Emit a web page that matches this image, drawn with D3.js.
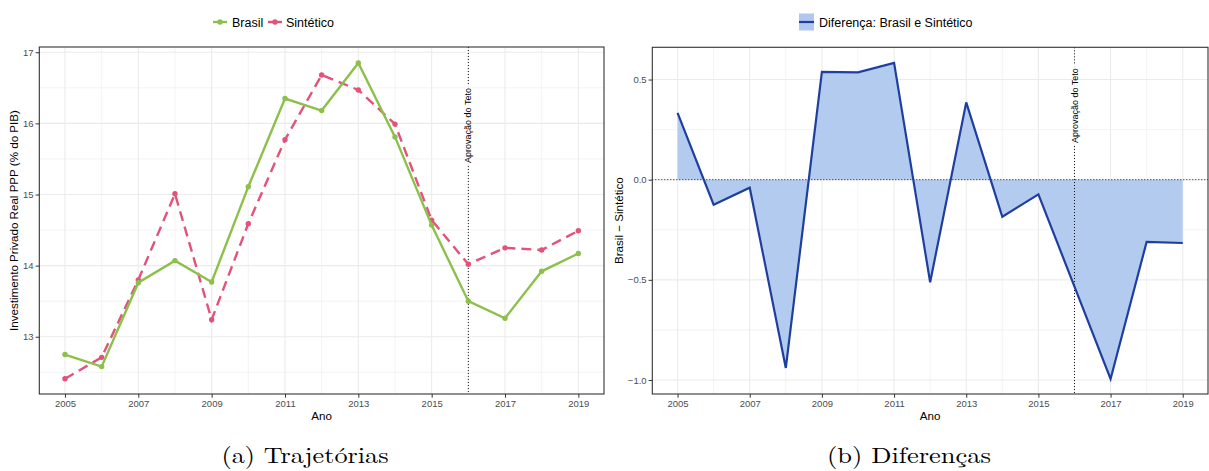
<!DOCTYPE html>
<html>
<head>
<meta charset="utf-8">
<script src="https://cdn.jsdelivr.net/npm/d3@7"></script>
<style>
  html, body { margin: 0; padding: 0; background: #fff; }
  svg { display: block; }
  text { font-family: "Liberation Sans", Arial, Helvetica, sans-serif; }
</style>
</head>
<body>
<svg id="fig" width="1209" height="471"></svg>
<script>
// Series data
const anos = [2005, 2006, 2007, 2008, 2009, 2010, 2011, 2012, 2013, 2014, 2015, 2016, 2017, 2018, 2019];
const brasil = [12.75, 12.58, 13.76, 14.07, 13.77, 15.11, 16.35, 16.18, 16.85, 15.81, 14.57, 13.50, 13.26, 13.92, 14.17];
const sintetico = [12.41, 12.71, 13.80, 15.01, 13.24, 14.59, 15.77, 16.68, 16.47, 15.99, 14.64, 14.02, 14.25, 14.22, 14.49];
const diferenca = [0.334, -0.125, -0.04, -0.94, 0.538, 0.536, 0.583, -0.512, 0.386, -0.185, -0.073, -0.534, -0.995, -0.31, -0.316];

const anoTicks = [2005, 2007, 2009, 2011, 2013, 2015, 2017, 2019];
const anoMinor = [2006, 2008, 2010, 2012, 2014, 2016, 2018];
const trajTicks = [13, 14, 15, 16, 17];
const trajMinor = [12.5, 13.5, 14.5, 15.5, 16.5];
const difTicks = [-1.0, -0.5, 0.0, 0.5];
const difMinor = [-0.75, -0.25, 0.25];
const anoTeto = 2016;

const corBrasil = "#8cc04b";
const corSint = "#e2527a";
const corLinhaDif = "#1f3f9e";
const corAreaDif = "#b0c8ef";

const svg = d3.select("#fig");

function panel(opts) {
  const g = svg.append("g");
  const x = d3.scaleLinear().domain([2004.3, 2019.7]).range([opts.x0, opts.x1]);
  const y = d3.scaleLinear().domain(opts.yDomain).range([opts.y1, opts.y0]);

  // background + grid
  g.append("rect").attr("x", opts.x0).attr("y", opts.y0)
    .attr("width", opts.x1 - opts.x0).attr("height", opts.y1 - opts.y0).attr("fill", "#fff");
  const grid = g.append("g");
  grid.selectAll(".vmin").data(anoMinor).join("line")
    .attr("x1", d => x(d)).attr("x2", d => x(d)).attr("y1", opts.y0).attr("y2", opts.y1)
    .attr("stroke", "#f0f0f0").attr("stroke-width", 0.8);
  grid.selectAll(".hmin").data(opts.minor).join("line")
    .attr("y1", d => y(d)).attr("y2", d => y(d)).attr("x1", opts.x0).attr("x2", opts.x1)
    .attr("stroke", "#f0f0f0").attr("stroke-width", 0.8);
  grid.selectAll(".vmaj").data(anoTicks).join("line")
    .attr("x1", d => x(d)).attr("x2", d => x(d)).attr("y1", opts.y0).attr("y2", opts.y1)
    .attr("stroke", "#ebebeb").attr("stroke-width", 1.1);
  grid.selectAll(".hmaj").data(opts.ticks).join("line")
    .attr("y1", d => y(d)).attr("y2", d => y(d)).attr("x1", opts.x0).attr("x2", opts.x1)
    .attr("stroke", "#ebebeb").attr("stroke-width", 1.1);

  // axes
  const xAxis = d3.axisBottom(x).tickValues(anoTicks).tickFormat(d3.format("d"))
    .tickSize(3.7).tickPadding(2.5);
  const gx = g.append("g").attr("transform", `translate(0,${opts.y1})`).call(xAxis);
  const yAxis = d3.axisLeft(y).tickValues(opts.ticks).tickFormat(opts.fmt)
    .tickSize(3.7).tickPadding(2);
  const gy = g.append("g").attr("transform", `translate(${opts.x0},0)`).call(yAxis);
  [gx, gy].forEach(a => {
    a.select(".domain").remove();
    a.selectAll(".tick line").attr("stroke", "#333").attr("stroke-width", 1);
    a.selectAll(".tick text").attr("fill", "#4d4d4d").style("font-size", "9.5px")
      .style("font-family", "'Liberation Sans', Arial, sans-serif");
  });

  // axis titles
  g.append("text").attr("x", (opts.x0 + opts.x1) / 2).attr("y", 420)
    .attr("text-anchor", "middle").style("font-size", "11.6px").attr("fill", "#000").text("Ano");
  g.append("text")
    .attr("transform", `translate(${opts.yTitleX},${(opts.y0 + opts.y1) / 2}) rotate(-90)`)
    .attr("text-anchor", "middle").attr("dy", "0.35em").style("font-size", "11.6px")
    .attr("fill", "#000").text(opts.yTitle);

  const marks = g.append("g");
  return { g, marks, x, y };
}

// teto annotation: dotted vertical line interrupted by a rotated label
function teto(p, opts, yLabel) {
  const xv = p.x(anoTeto);
  const yc = p.y(yLabel);
  const lineTop = p.marks.append("line");
  const lineBot = p.marks.append("line");
  const label = p.marks.append("text")
    .attr("transform", `translate(${xv},${yc}) rotate(-90)`)
    .attr("text-anchor", "middle").attr("dy", "0.35em")
    .style("font-size", "9px").attr("fill", "#000").text("Aprovação do Teto");
  const half = label.node().getComputedTextLength() / 2 + 3;
  lineTop.attr("x1", xv).attr("x2", xv).attr("y1", opts.y0).attr("y2", yc - half)
    .attr("stroke", "#111").attr("stroke-width", 1).attr("stroke-dasharray", "1,2");
  lineBot.attr("x1", xv).attr("x2", xv).attr("y1", yc + half).attr("y2", opts.y1)
    .attr("stroke", "#111").attr("stroke-width", 1).attr("stroke-dasharray", "1,2");
}

// ---------- (a) Trajetórias ----------
const optsA = {
  x0: 39.3, x1: 604, y0: 47, y1: 394,
  yDomain: [12.195, 17.074], ticks: trajTicks, minor: trajMinor,
  fmt: d3.format("d"), yTitle: "Investimento Privado Real PPP (% do PIB)", yTitleX: 14
};
const pA = panel(optsA);

const serieA = [
  { nome: "Sintético", vals: sintetico, cor: corSint, dash: "10,6" },
  { nome: "Brasil", vals: brasil, cor: corBrasil, dash: null }
];
const lineA = d3.line().x((d, i) => pA.x(anos[i])).y(d => pA.y(d));
teto(pA, optsA, 15.97);
serieA.forEach(s => {
  pA.marks.append("path").datum(s.vals).attr("d", lineA).attr("fill", "none")
    .attr("stroke", s.cor).attr("stroke-width", 2.4)
    .attr("stroke-dasharray", s.dash);
  pA.marks.selectAll(null).data(s.vals).join("circle")
    .attr("cx", (d, i) => pA.x(anos[i])).attr("cy", d => pA.y(d))
    .attr("r", 2.7).attr("fill", s.cor);
});
pA.g.append("rect").attr("x", optsA.x0).attr("y", optsA.y0)
  .attr("width", optsA.x1 - optsA.x0).attr("height", optsA.y1 - optsA.y0)
  .attr("fill", "none").attr("stroke", "#333").attr("stroke-width", 1.1);

// legend (a)
const legA = svg.append("g");
[{ nome: "Brasil", cor: corBrasil, kx: 213, tx: 232 },
 { nome: "Sintético", cor: corSint, kx: 268, tx: 286 }].forEach(l => {
  legA.append("line").attr("x1", l.kx).attr("x2", l.kx + 14).attr("y1", 22).attr("y2", 22)
    .attr("stroke", l.cor).attr("stroke-width", 2.4);
  legA.append("circle").attr("cx", l.kx + 7).attr("cy", 22).attr("r", 2.7).attr("fill", l.cor);
  legA.append("text").attr("x", l.tx).attr("y", 26.5).style("font-size", "12.5px")
    .attr("fill", "#000").text(l.nome);
});

// ---------- (b) Diferenças ----------
const optsB = {
  x0: 652.3, x1: 1208, y0: 47.3, y1: 394,
  yDomain: [-1.07, 0.661], ticks: difTicks, minor: difMinor,
  fmt: d => d3.format(".1f")(d).replace("-", "\u2212"), yTitle: "Brasil \u2212 Sintético", yTitleX: 618.5
};
const pB = panel(optsB);

const areaB = d3.area().x((d, i) => pB.x(anos[i])).y0(pB.y(0)).y1(d => pB.y(d));
pB.marks.append("path").datum(diferenca).attr("d", areaB)
  .attr("fill", corAreaDif).attr("fill-opacity", 0.95);
pB.marks.append("line").attr("x1", optsB.x0).attr("x2", optsB.x1)
  .attr("y1", pB.y(0)).attr("y2", pB.y(0))
  .attr("stroke", "#111").attr("stroke-width", 1).attr("stroke-dasharray", "1,2");
teto(pB, optsB, 0.37);
const lineB = d3.line().x((d, i) => pB.x(anos[i])).y(d => pB.y(d));
pB.marks.append("path").datum(diferenca).attr("d", lineB).attr("fill", "none")
  .attr("stroke", corLinhaDif).attr("stroke-width", 2.2).attr("stroke-linejoin", "miter");
pB.g.append("rect").attr("x", optsB.x0).attr("y", optsB.y0)
  .attr("width", optsB.x1 - optsB.x0).attr("height", optsB.y1 - optsB.y0)
  .attr("fill", "none").attr("stroke", "#333").attr("stroke-width", 1.1);

// legend (b)
const legB = svg.append("g");
legB.append("rect").attr("x", 799).attr("y", 13.5).attr("width", 15).attr("height", 17)
  .attr("fill", corAreaDif);
legB.append("line").attr("x1", 799).attr("x2", 814).attr("y1", 22).attr("y2", 22)
  .attr("stroke", corLinhaDif).attr("stroke-width", 2.2);
legB.append("text").attr("x", 819).attr("y", 26.5).style("font-size", "12.5px")
  .attr("fill", "#000").text("Diferença: Brasil e Sintético");

// captions
const capStyle = sel => sel.attr("text-anchor", "middle")
  .style("font-family", "'Latin Modern Roman', 'CMU Serif', 'Liberation Serif', 'DejaVu Serif', serif")
  .style("font-size", "22px").attr("fill", "#000").attr("lengthAdjust", "spacingAndGlyphs");
svg.append("text").attr("x", 305).attr("y", 463).call(capStyle)
  .attr("textLength", 167).text("(a) Trajetórias");
svg.append("text").attr("x", 909).attr("y", 463).call(capStyle)
  .attr("textLength", 164).text("(b) Diferenças");
</script>
</body>
</html>
